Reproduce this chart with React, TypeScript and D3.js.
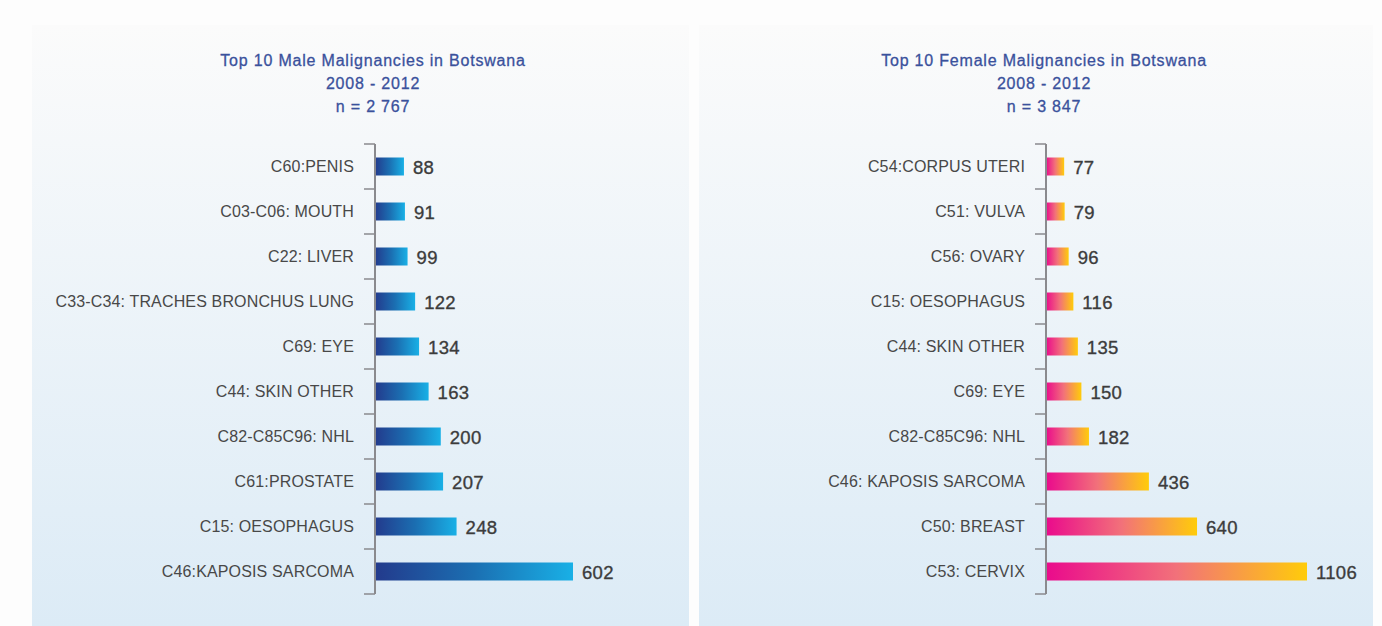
import React, { useEffect, useRef } from 'react';
import * as d3 from 'd3';

const maleCategories = [
  'C60:PENIS',
  'C03-C06: MOUTH',
  'C22: LIVER',
  'C33-C34: TRACHES BRONCHUS LUNG',
  'C69: EYE',
  'C44: SKIN OTHER',
  'C82-C85C96: NHL',
  'C61:PROSTATE',
  'C15: OESOPHAGUS',
  'C46:KAPOSIS SARCOMA',
];
const maleValues = [88, 91, 99, 122, 134, 163, 200, 207, 248, 602];

const femaleCategories = [
  'C54:CORPUS UTERI',
  'C51: VULVA',
  'C56: OVARY',
  'C15: OESOPHAGUS',
  'C44: SKIN OTHER',
  'C69: EYE',
  'C82-C85C96: NHL',
  'C46: KAPOSIS SARCOMA',
  'C50: BREAST',
  'C53: CERVIX',
];
const femaleValues = [77, 79, 96, 116, 135, 150, 182, 436, 640, 1106];

const maleTitle = ['Top 10 Male Malignancies in Botswana', '2008 - 2012', 'n = 2 767'];
const femaleTitle = ['Top 10 Female Malignancies in Botswana', '2008 - 2012', 'n = 3 847'];

const W = 1382;
const H = 626;
const FONT = '"Liberation Sans", Arial, Helvetica, sans-serif';

const App = () => {
  const svgRef = useRef<SVGSVGElement>(null);

  useEffect(() => {
    const svg = d3.select(svgRef.current);
    svg.selectAll('*').remove();
    svg.attr('width', W).attr('height', H);

    const defs = svg.append('defs');

    const bg = defs.append('linearGradient')
      .attr('id', 'panelBg')
      .attr('x1', 0).attr('y1', 0).attr('x2', 0).attr('y2', 1);
    bg.append('stop').attr('offset', '0%').attr('stop-color', '#fbfbfb');
    bg.append('stop').attr('offset', '100%').attr('stop-color', '#dcebf6');

    const addBarGrad = (id, stops) => {
      const g = defs.append('linearGradient')
        .attr('id', id)
        .attr('x1', 0).attr('y1', 0).attr('x2', 1).attr('y2', 0);
      stops.forEach(([o, c]) => g.append('stop').attr('offset', o).attr('stop-color', c));
    };
    addBarGrad('maleBar', [['0%', '#233a8c'], ['50%', '#1b6fb2'], ['100%', '#19b0e6']]);
    addBarGrad('femaleBar', [['0%', '#ea0a8c'], ['50%', '#f2717a'], ['100%', '#ffcc0a']]);

    svg.append('rect').attr('width', W).attr('height', H).attr('fill', '#fdfdfd');

    const drawPanel = (opts) => {
      const { x0, x1, axisX, categories, values, xMax, xRange, title, grad } = opts;
      const g = svg.append('g');

      g.append('rect')
        .attr('x', x0).attr('y', 25)
        .attr('width', x1 - x0).attr('height', H - 25)
        .attr('fill', 'url(#panelBg)');

      // title, three centred lines
      const cx = axisX - 2;
      title.forEach((t, i) => {
        g.append('text')
          .attr('x', cx)
          .attr('y', 66 + i * 23)
          .attr('text-anchor', 'middle')
          .attr('font-family', FONT)
          .attr('font-size', '16px')
          .attr('letter-spacing', '0.8px')
          .attr('fill', '#3a519c')
          .attr('stroke', '#3a519c')
          .attr('stroke-width', 0.3)
          .text(t);
      });

      const y = d3.scaleBand().domain(categories).range([144, 594]).padding(0);
      const x = d3.scaleLinear().domain([0, xMax]).range([0, xRange]);
      const barH = y.bandwidth() * 0.4;

      // bars
      g.selectAll('.bar')
        .data(values)
        .enter()
        .append('rect')
        .attr('x', axisX)
        .attr('y', (d, i) => y(categories[i]) + (y.bandwidth() - barH) / 2)
        .attr('width', d => x(d))
        .attr('height', barH)
        .attr('fill', `url(#${grad})`);

      // axis line + ticks at band edges
      const axisColor = '#8a8a8e';
      g.append('line')
        .attr('x1', axisX).attr('x2', axisX)
        .attr('y1', 144).attr('y2', 594)
        .attr('stroke', axisColor).attr('stroke-width', 2);
      const tickYs = categories.map(c => y(c)).concat([594]);
      g.selectAll('.tick')
        .data(tickYs)
        .enter()
        .append('line')
        .attr('x1', axisX - 11).attr('x2', axisX)
        .attr('y1', d => d).attr('y2', d => d)
        .attr('stroke', axisColor).attr('stroke-width', 1.5);

      // category labels
      g.selectAll('.cat')
        .data(categories)
        .enter()
        .append('text')
        .attr('x', axisX - 21)
        .attr('y', d => y(d) + y.bandwidth() / 2 + 5)
        .attr('text-anchor', 'end')
        .attr('font-family', FONT)
        .attr('font-size', '16px')
        .attr('letter-spacing', '0.15px')
        .attr('fill', '#484848')
        .text(d => d);

      // value labels
      g.selectAll('.val')
        .data(values)
        .enter()
        .append('text')
        .attr('x', d => axisX + x(d) + 9)
        .attr('y', (d, i) => y(categories[i]) + y.bandwidth() / 2 + 7)
        .attr('font-family', FONT)
        .attr('font-size', '18.5px')
        .attr('letter-spacing', '0.3px')
        .attr('fill', '#3c3c3c')
        .attr('stroke', '#3c3c3c')
        .attr('stroke-width', 0.35)
        .text(d => d);
    };

    drawPanel({
      x0: 32, x1: 689, axisX: 375,
      categories: maleCategories, values: maleValues,
      xMax: 602, xRange: 198,
      title: maleTitle, grad: 'maleBar',
    });
    drawPanel({
      x0: 699, x1: 1373, axisX: 1046,
      categories: femaleCategories, values: femaleValues,
      xMax: 1106, xRange: 261,
      title: femaleTitle, grad: 'femaleBar',
    });
  }, []);

  return (
    <div style={{ position: 'absolute', left: 0, top: 0 }}>
      <svg ref={svgRef} style={{ display: 'block' }}></svg>
    </div>
  );
};

export default App;
